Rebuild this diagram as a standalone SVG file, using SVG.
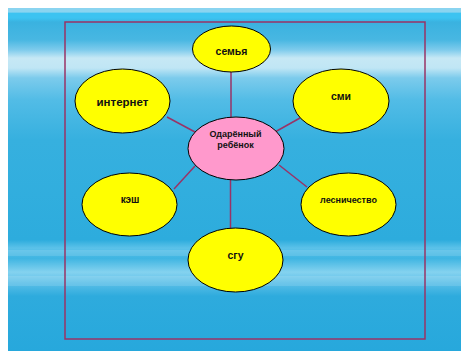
<svg xmlns="http://www.w3.org/2000/svg" width="461" height="351" viewBox="0 0 461 351">
<defs>
<linearGradient id="sky" gradientUnits="userSpaceOnUse" x1="0" y1="8" x2="0" y2="351">
<stop offset="0" stop-color="#8ad4f0"/>
<stop offset="0.012" stop-color="#8ad4f0"/>
<stop offset="0.015" stop-color="#3cc3f1"/>
<stop offset="0.029" stop-color="#3cc3f1"/>
<stop offset="0.041" stop-color="#3ab2e0"/>
<stop offset="0.093" stop-color="#48b7e2"/>
<stop offset="0.122" stop-color="#7ecbec"/>
<stop offset="0.146" stop-color="#c6e8f5"/>
<stop offset="0.175" stop-color="#c0e6f5"/>
<stop offset="0.204" stop-color="#7ccbec"/>
<stop offset="0.268" stop-color="#52bce6"/>
<stop offset="0.385" stop-color="#36b0df"/>
<stop offset="0.676" stop-color="#2dacdd"/>
<stop offset="0.700" stop-color="#5cc2e9"/>
<stop offset="0.730" stop-color="#3fb5e2"/>
<stop offset="0.770" stop-color="#84d2ef"/>
<stop offset="0.800" stop-color="#5cc0e8"/>
<stop offset="0.840" stop-color="#2eabdd"/>
<stop offset="1" stop-color="#27a8dc"/>
</linearGradient>
</defs>
<style>
.frame{fill:none;stroke:#993366;stroke-width:1.5}
.link{stroke:#993366;stroke-width:1.5;fill:none}
.leaf{fill:#ffff00;stroke:#000;stroke-width:1}
.core{fill:#ff99cc;stroke:#000;stroke-width:1}
text{font-family:"Liberation Sans",Arial,sans-serif;font-weight:bold;fill:#111;text-anchor:middle}
</style>
<rect x="0" y="0" width="461" height="351" fill="#fff"/>
<rect x="8" y="8" width="453" height="343" fill="url(#sky)"/>
<rect x="8" y="250" width="453" height="6" fill="#fff" opacity="0.12"/>
<rect x="8" y="276" width="453" height="10" fill="#fff" opacity="0.12"/>
<rect class="frame" x="65" y="22" width="360" height="317"/>
<g id="connectors">
<line class="link" x1="231" y1="72" x2="231" y2="117"/>
<line class="link" x1="167" y1="117" x2="195" y2="132"/>
<line class="link" x1="300" y1="118" x2="275" y2="132"/>
<line class="link" x1="174" y1="189" x2="195" y2="166"/>
<line class="link" x1="279" y1="165" x2="307" y2="187"/>
<line class="link" x1="230.5" y1="180" x2="230.5" y2="228"/>
</g>
<g id="semya"><ellipse class="leaf" cx="231.5" cy="49" rx="39" ry="23"/><text x="231.5" y="55" font-size="10.5">семья</text></g>
<g id="internet"><ellipse class="leaf" cx="122.5" cy="101" rx="47.5" ry="32"/><text x="122.5" y="106" font-size="11.5">интернет</text></g>
<g id="smi"><ellipse class="leaf" cx="341" cy="101" rx="48" ry="32"/><text x="341" y="100" font-size="10.5">сми</text></g>
<g id="center"><ellipse class="core" cx="236" cy="148.5" rx="48" ry="31.5"/><text x="235.5" y="137" font-size="9">Одарённый</text><text x="235.5" y="148" font-size="9">ребёнок</text></g>
<g id="kesh"><ellipse class="leaf" cx="129.5" cy="204.5" rx="47.5" ry="31.5"/><text x="130" y="203" font-size="10">кэш</text></g>
<g id="lesnichestvo"><ellipse class="leaf" cx="348.5" cy="204.5" rx="47.5" ry="31.5"/><text x="348.5" y="203" font-size="9">лесничество</text></g>
<g id="sgu"><ellipse class="leaf" cx="235.5" cy="260" rx="47.5" ry="32"/><text x="235.5" y="259" font-size="10.5">сгу</text></g>
</svg>
